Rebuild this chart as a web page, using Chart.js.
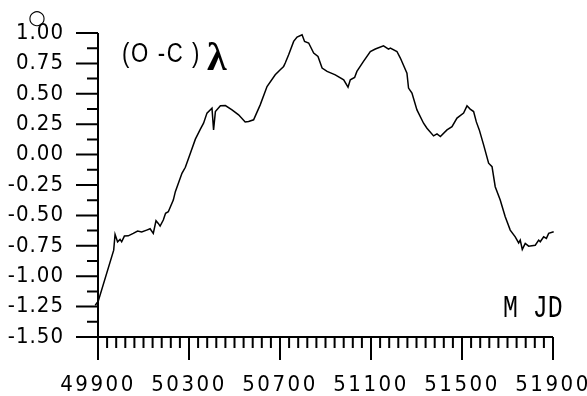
<!DOCTYPE html>
<html><head><meta charset="utf-8">
<script src="https://cdn.jsdelivr.net/npm/chart.js@4"></script>
<style>html,body{margin:0;padding:0;background:#fff}#wrap{width:587px;height:396px}</style>
</head><body><div id="wrap"><canvas id="c" width="587" height="396"></canvas></div>
<script>
const mjd = [49879,49888,49901,49969,49975,49986,49997,50004,50016,50033,50055,50074,50092,50114,50129,50143,50155,50165,50173,50187,50197,50209,50231,50240,50269,50284,50306,50328,50350,50364,50379,50401,50408,50416,50438,50460,50489,50518,50547,50562,50584,50613,50643,50679,50701,50716,50723,50738,50760,50775,50797,50808,50826,50848,50867,50885,50907,50943,50980,50999,51009,51028,51038,51067,51097,51119,51155,51177,51185,51214,51229,51258,51265,51280,51302,51331,51346,51375,51390,51405,51434,51456,51478,51507,51522,51536,51551,51563,51576,51595,51617,51632,51646,51668,51690,51712,51734,51749,51756,51765,51778,51793,51822,51837,51844,51859,51871,51881,51903,51910];
const oc = [-1.288,-1.239,-1.206,-0.786,-0.656,-0.717,-0.697,-0.717,-0.670,-0.668,-0.648,-0.629,-0.637,-0.621,-0.610,-0.648,-0.544,-0.566,-0.588,-0.538,-0.483,-0.470,-0.374,-0.305,-0.154,-0.104,0.011,0.127,0.209,0.258,0.341,0.382,0.203,0.354,0.401,0.403,0.368,0.327,0.269,0.272,0.286,0.409,0.560,0.656,0.698,0.725,0.753,0.821,0.931,0.967,0.986,0.931,0.918,0.835,0.807,0.712,0.684,0.656,0.615,0.555,0.615,0.634,0.684,0.766,0.848,0.868,0.895,0.868,0.876,0.848,0.794,0.670,0.547,0.506,0.368,0.258,0.217,0.154,0.170,0.148,0.203,0.230,0.300,0.341,0.401,0.374,0.354,0.269,0.203,0.080,-0.071,-0.099,-0.264,-0.374,-0.511,-0.621,-0.676,-0.726,-0.703,-0.780,-0.730,-0.753,-0.745,-0.703,-0.717,-0.676,-0.689,-0.648,-0.635,-0.627];
const xTickValues = [49900,50300,50700,51100,51500,51900];
const yTickValues = [-1.5,-1.25,-1.0,-0.75,-0.5,-0.25,0,0.25,0.5,0.75,1.0];
const xMinorStep = 40;
const yMinorStep = 0.125;
const titleText = '(O -C )';
const lambdaText = 'λ';
const degreeText = '○';
const xAxisText = 'M JD';

const tickFont = "'Liberation Sans Narrow','DejaVu Sans Condensed','Liberation Sans'";

function spaceLabels(s, spacing) {
  if (s._spaced) return;
  const orig = s.drawLabels.bind(s);
  s.drawLabels = function (area) {
    const c = this.ctx, prev = c.letterSpacing;
    c.letterSpacing = spacing;
    orig(area);
    c.letterSpacing = prev;
  };
  s._spaced = true;
}

const axesPlugin = {
  id: 'axesPlugin',
  afterDraw(chart) {
    const ctx = chart.ctx, xs = chart.scales.x, ys = chart.scales.y;
    const x0 = xs.getPixelForValue(xs.min), x1 = xs.getPixelForValue(xs.max);
    const y0 = ys.getPixelForValue(ys.min), y1 = ys.getPixelForValue(ys.max);
    ctx.save();
    ctx.letterSpacing = '0px';
    ctx.strokeStyle = '#000'; ctx.lineWidth = 2; ctx.lineCap = 'butt';
    ctx.beginPath();
    ctx.moveTo(x0, y1); ctx.lineTo(x0, y0);
    ctx.moveTo(x0, y0); ctx.lineTo(x1, y0);
    for (let v = ys.min; v <= ys.max + 1e-9; v += yMinorStep) {
      const major = Math.abs(v / 0.25 - Math.round(v / 0.25)) < 1e-6;
      const py = ys.getPixelForValue(v);
      ctx.moveTo(x0 - (major ? 22 : 11), py); ctx.lineTo(x0, py);
    }
    for (let v = xs.min; v <= xs.max + 1e-6; v += xMinorStep) {
      const major = xTickValues.includes(v);
      const px = xs.getPixelForValue(v);
      ctx.moveTo(px, y0); ctx.lineTo(px, y0 + (major ? 23 : 11));
    }
    ctx.stroke();
    ctx.fillStyle = '#000';
    ctx.textBaseline = 'alphabetic';
    ctx.save();
    ctx.translate(122, 62); ctx.scale(0.82, 1);
    ctx.font = "27px 'Liberation Sans'";
    ctx.letterSpacing = '2px';
    ctx.fillText(titleText, 0, 0);
    ctx.restore();
    ctx.font = "bold 40px 'Liberation Serif'";
    ctx.fillText(lambdaText, 207, 70);
    ctx.font = "20px 'DejaVu Sans'";
    ctx.textAlign = 'center';
    ctx.fillText(degreeText, 37, 24);
    ctx.save();
    ctx.translate(503, 317); ctx.scale(0.8, 1);
    ctx.textAlign = 'left';
    ctx.font = "31px 'Liberation Mono'";
    ctx.fillText(xAxisText, 0, 0);
    ctx.restore();
    ctx.restore();
  }
};

new Chart(document.getElementById('c'), {
  type: 'line',
  data: { datasets: [{ data: mjd.map((x, i) => ({ x, y: oc[i] })), borderColor: '#000', borderWidth: 1.5, pointRadius: 0, tension: 0, clip: false, fill: false }] },
  options: {
    responsive: false, animation: false, events: [],
    layout: { padding: { left: 0, top: 33, right: 34, bottom: 0 } },
    plugins: { legend: { display: false }, tooltip: { enabled: false } },
    scales: {
      x: {
        type: 'linear', min: 49900, max: 51900,
        afterBuildTicks: s => { s.ticks = xTickValues.map(v => ({ value: v })); },
        afterFit: s => { s.height = 59; s.paddingLeft = 0; s.paddingRight = 0; spaceLabels(s, '2.5px'); },
        grid: { display: false, drawTicks: false }, border: { display: false },
        ticks: { color: '#000', maxRotation: 0, autoSkip: false, padding: 35, font: { family: tickFont, size: 22 }, callback: v => String(v) }
      },
      y: {
        type: 'linear', min: -1.5, max: 1.0,
        afterBuildTicks: s => { s.ticks = yTickValues.map(v => ({ value: v })); },
        afterFit: s => { s.width = 98; s.paddingTop = 0; s.paddingBottom = 0; spaceLabels(s, '1px'); },
        grid: { display: false, drawTicks: false }, border: { display: false },
        ticks: { color: '#000', autoSkip: false, padding: 34, font: { family: tickFont, size: 22 }, callback: v => Number(v).toFixed(2) }
      }
    }
  },
  plugins: [axesPlugin]
});
</script></body></html>
